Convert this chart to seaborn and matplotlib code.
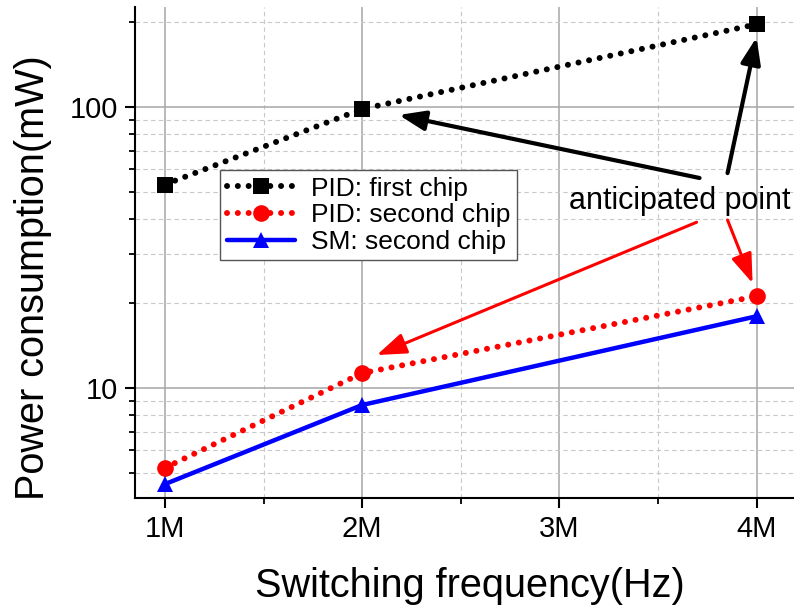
import matplotlib
matplotlib.use('Agg')
import matplotlib.pyplot as plt
import seaborn as sns
from matplotlib.ticker import FixedLocator, LogLocator, NullFormatter, FuncFormatter

# switching frequency in MHz
freq_mhz = [1, 2, 4]
pid_first = [53.0, 98.4, 197.0]
pid_second = [5.2, 11.3, 21.2]
sm_second = [4.55, 8.7, 18.0]

series_labels = ['PID: first chip', 'PID: second chip', 'SM: second chip']
x_ticks = [1, 2, 3, 4]
x_ticklabels = ['1M', '2M', '3M', '4M']

note_text = 'anticipated point'
note_pos = (3.048, 43.4)
# (tail, tip) pairs for the arrows, in data units
black_arrows = [((3.711, 55.9), (2.186, 93.7)), ((3.853, 58.2), (4.0, 177.0))]
red_arrows = [((3.696, 38.9), (2.074, 13.1)), ((3.853, 39.6), (3.98, 23.6))]

sns.set_theme(style='white')
plt.rcParams['font.family'] = ['Liberation Sans', 'DejaVu Sans']
plt.rcParams['text.color'] = 'black'
plt.rcParams['axes.labelcolor'] = 'black'
plt.rcParams['xtick.color'] = 'black'
plt.rcParams['ytick.color'] = 'black'

fig = plt.figure(figsize=(7.94, 6.08), dpi=100)
ax = fig.add_axes([135 / 794, 1 - 498 / 608, 659 / 794, 491 / 608])

dots = (0, (0.01, 1.8))
styles = [
    (pid_first, 'black', 's', dots, 4.3, 11),
    (pid_second, 'red', 'o', dots, 4.3, 12),
    (sm_second, 'blue', '^', '-', 3.2, 12),
]
for (vals, color, mk, ls, lw, ms), lab in zip(styles, series_labels):
    sns.lineplot(x=freq_mhz, y=vals, ax=ax, color=color, marker=mk, markersize=ms,
                 markeredgecolor=color, markeredgewidth=0, linestyle=ls, lw=lw,
                 dash_capstyle='round', label=lab, zorder=3)

ax.set_yscale('log')
ax.set_ylim(4.06, 227)
ax.set_xlim(0.848, 4.19)
ax.yaxis.set_major_locator(FixedLocator([10, 100]))
ax.yaxis.set_major_formatter(FuncFormatter(lambda v, p: f'{v:g}'))
ax.yaxis.set_minor_locator(LogLocator(base=10, subs=range(2, 10)))
ax.yaxis.set_minor_formatter(NullFormatter())
ax.set_xticks(x_ticks)
ax.set_xticklabels(x_ticklabels)
ax.set_xticks([1.5, 2.5, 3.5], minor=True)

ax.set_axisbelow(True)
ax.grid(which='major', color='#a6a6a6', lw=1.1, ls='-')
ax.grid(which='minor', color='#c8c8c8', lw=0.8, ls=(0, (4, 3)))

for s in ['top', 'right']:
    ax.spines[s].set_visible(False)
for s in ['left', 'bottom']:
    ax.spines[s].set_color('black')
    ax.spines[s].set_linewidth(1.5)

ax.tick_params(which='major', direction='out', length=7.5, width=1.5, labelsize=21,
               pad=5, color='black', left=True, bottom=True)
ax.tick_params(which='minor', direction='out', length=4.5, width=1.3, color='black',
               left=True, bottom=True)

ax.set_xlabel('Switching frequency(Hz)', fontsize=28.5)
ax.set_ylabel('Power consumption(mW)', fontsize=28.5)
ax.xaxis.set_label_coords(0.508, -0.14)
ax.yaxis.set_label_coords(-0.126, 0.448)

leg = ax.legend(loc='upper left', bbox_to_anchor=(0.129, 0.668), borderaxespad=0,
                fontsize=19, handlelength=2.6, handletextpad=0.6, borderpad=0.25,
                labelspacing=0.1, numpoints=1, fancybox=False, framealpha=1)
leg.get_frame().set_edgecolor('#555555')
leg.get_frame().set_linewidth(1.0)

ax.text(note_pos[0], note_pos[1], note_text, fontsize=22, va='baseline', ha='left',
        clip_on=False, zorder=5)
for tail, tip in black_arrows:
    ax.annotate('', xy=tip, xytext=tail, zorder=5,
                arrowprops=dict(arrowstyle='-|>,head_length=0.8,head_width=0.3',
                                mutation_scale=20, lw=3, color='black',
                                shrinkA=0, shrinkB=0))
for tail, tip in red_arrows:
    ax.annotate('', xy=tip, xytext=tail, zorder=5,
                arrowprops=dict(arrowstyle='-|>,head_length=0.9,head_width=0.32',
                                mutation_scale=20, lw=2.2, color='red',
                                shrinkA=0, shrinkB=0))

fig.savefig('out.png', dpi=100)
